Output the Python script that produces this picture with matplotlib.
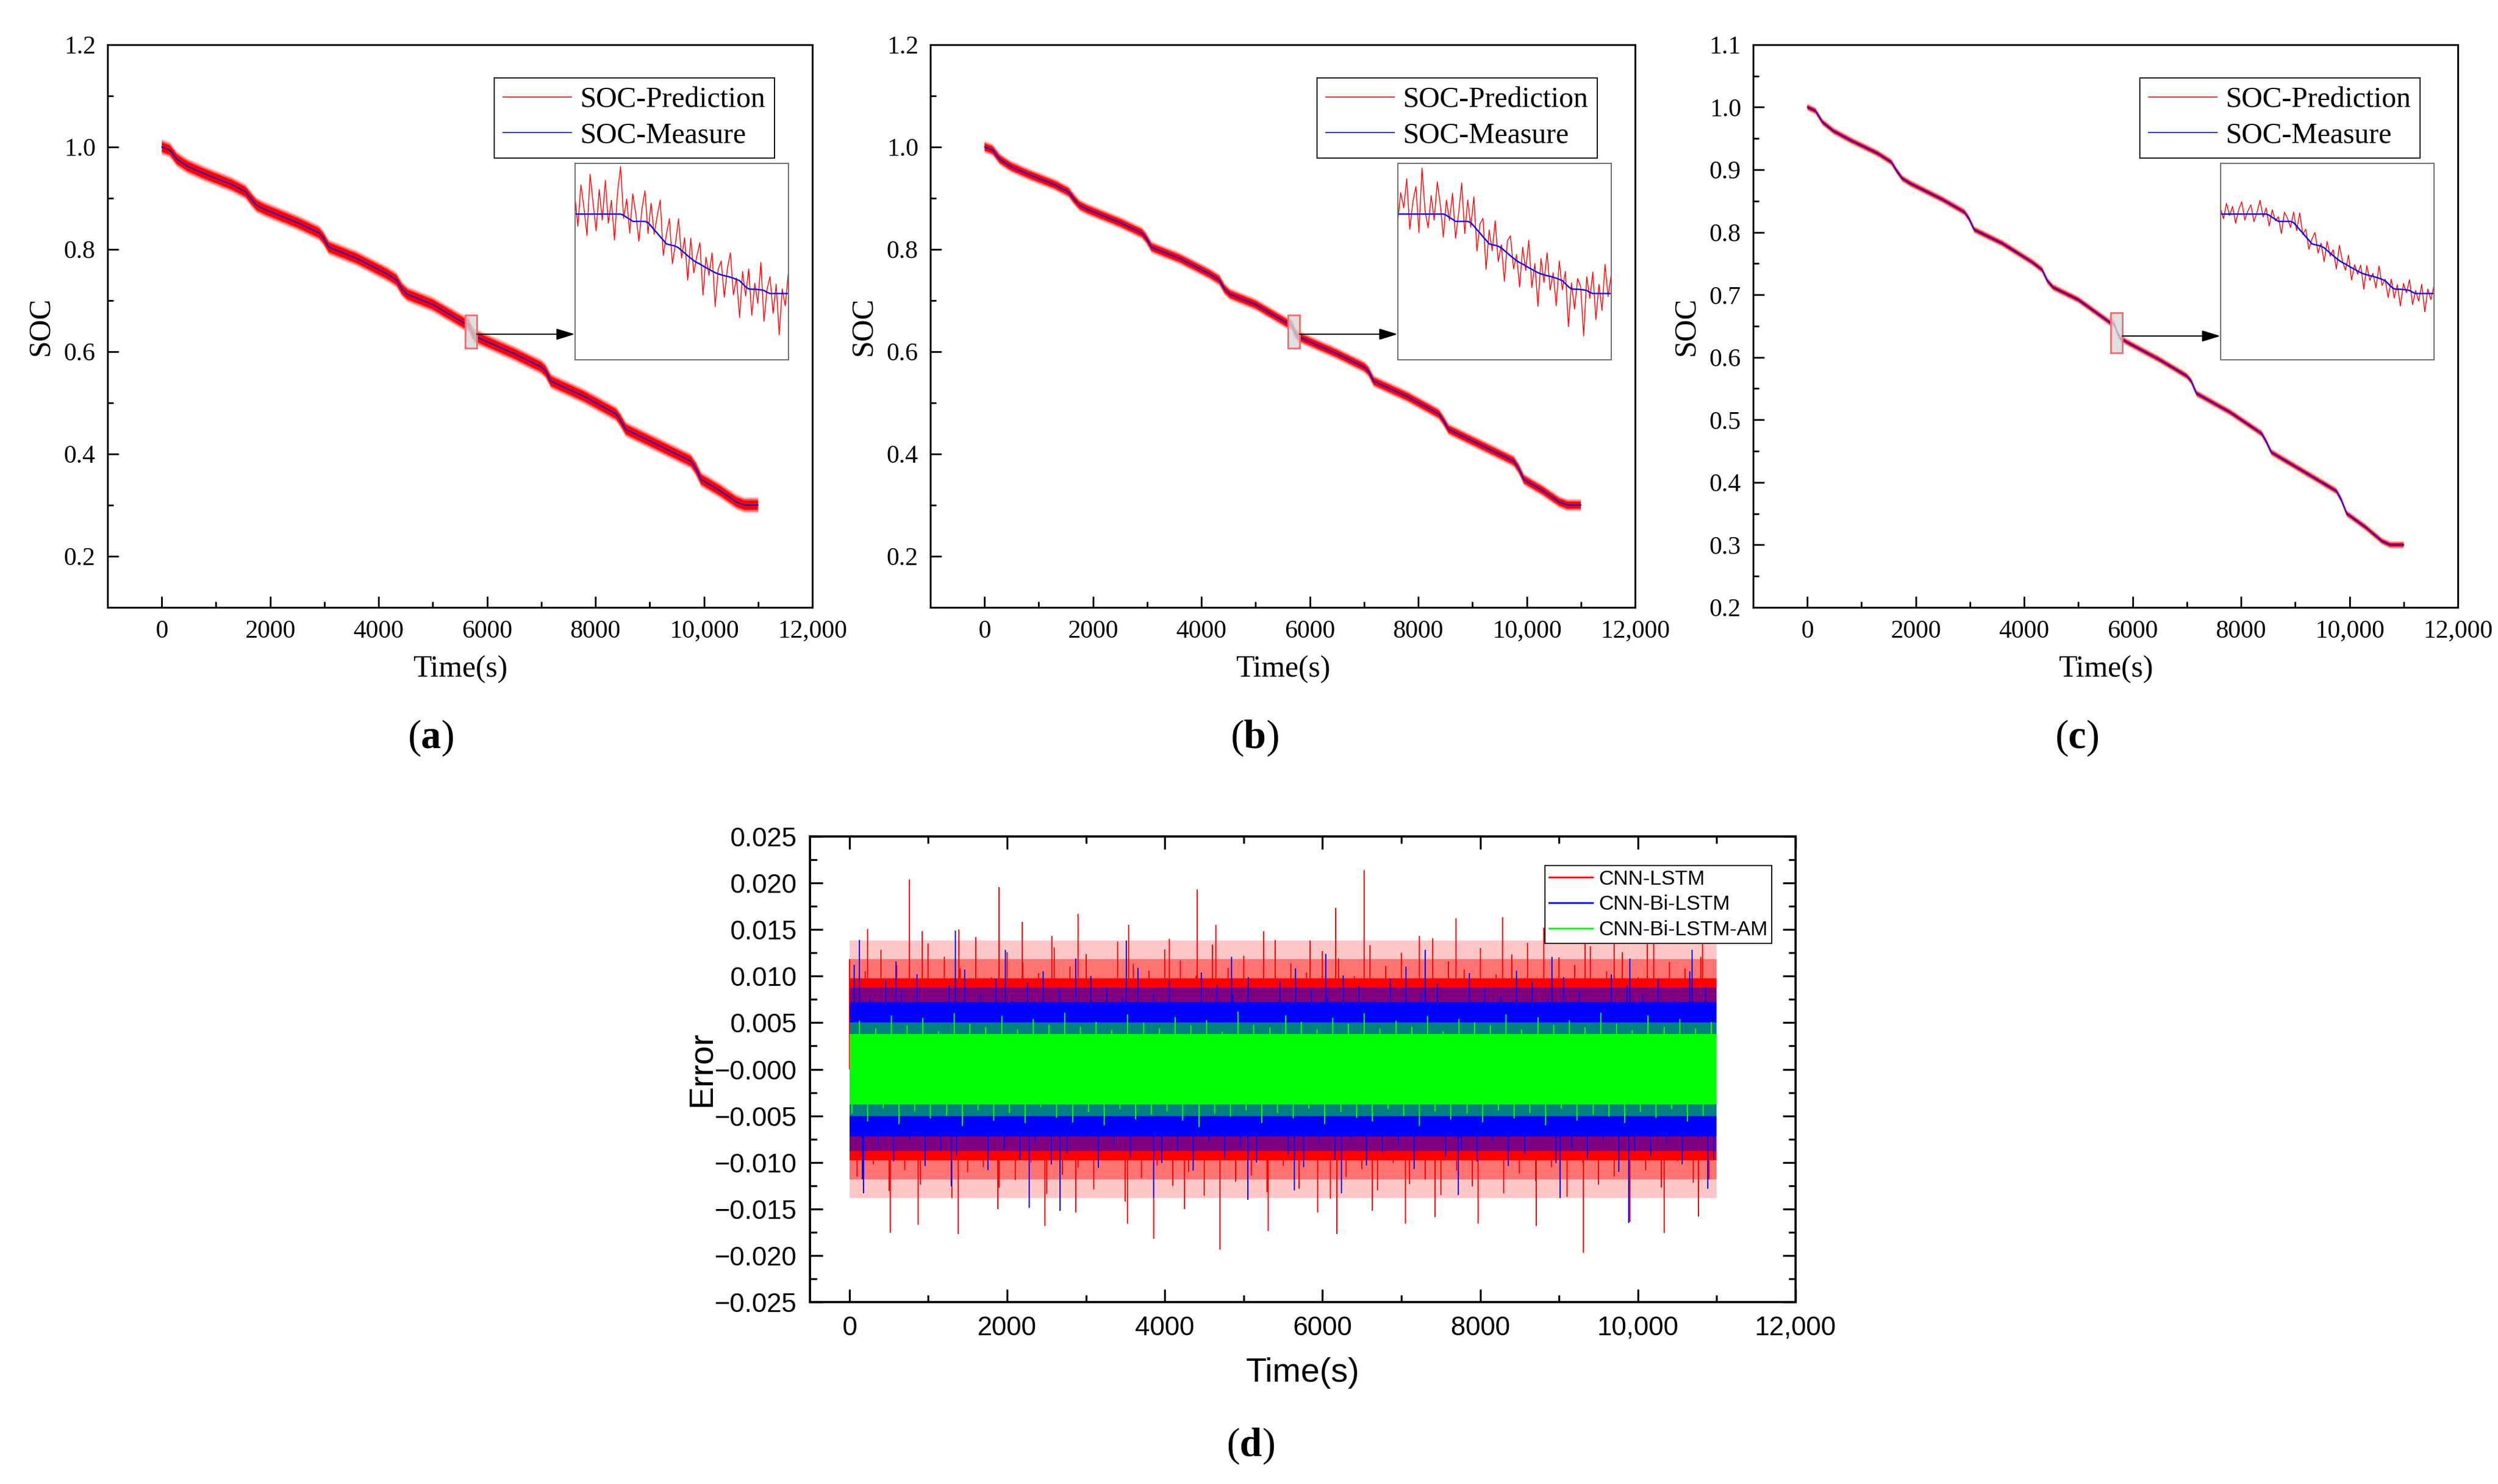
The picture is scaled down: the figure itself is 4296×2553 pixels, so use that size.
import numpy as np
import matplotlib
matplotlib.use("Agg")
import matplotlib.pyplot as plt
from matplotlib.lines import Line2D
from matplotlib.patches import Rectangle
from matplotlib.ticker import MultipleLocator, FuncFormatter

# ---------------------------------------------------------------- data
# measured SOC curve (knots read off the blue line)
soc_time = [0, 150, 280, 480, 800, 1300, 1550, 1650, 1750, 1900,
            2500, 2900, 2980, 3080, 3600, 4150, 4330, 4430, 4530, 5000,
            5600, 5646, 5657, 5671, 5690, 5701, 5716, 5737, 5751, 5762,
            5770, 5785, 5791, 5810,
            5900, 6500, 7000, 7080, 7180, 7800, 8380, 8460, 8560, 9200,
            9760, 9850, 9950, 10300, 10600, 10750, 11000]
soc_measure = [1.000, 0.994, 0.976, 0.962, 0.947, 0.926, 0.912, 0.898, 0.886, 0.878,
               0.852, 0.832, 0.822, 0.804, 0.782, 0.752, 0.740, 0.722, 0.712, 0.692,
               0.6545, 0.6545, 0.6521, 0.6521, 0.6448, 0.6438, 0.6395, 0.6355, 0.6342, 0.6328,
               0.6301, 0.6298, 0.6286, 0.6286,
               0.624, 0.596, 0.570, 0.562, 0.542, 0.512, 0.478, 0.466, 0.448, 0.415,
               0.386, 0.372, 0.350, 0.328, 0.306, 0.300, 0.300]

# spread of the red prediction around the measure in each main panel:
# solid half width, then the edges of the thinning fringe
band_a = [0.0095, 0.0125, 0.0155]
band_b = [0.0070, 0.0095, 0.0120]
band_c = [0.0030, 0.0045, 0.0060]

# zoomed window (5600-5810 s, 3 s sampling) shown in the insets
win_time = np.arange(5600, 5811, 3)
win_measure = [0.6545, 0.6545, 0.6545, 0.6545, 0.6545, 0.6545, 0.6545, 0.6545, 0.6545, 0.6545,
               0.6545, 0.6545, 0.6545, 0.6545, 0.6545, 0.6545, 0.6541, 0.6534, 0.6528, 0.6521,
               0.6521, 0.6521, 0.6521, 0.6521, 0.6517, 0.6506, 0.6494, 0.6483, 0.6471, 0.6460,
               0.6448, 0.6445, 0.6443, 0.6440, 0.6435, 0.6426, 0.6418, 0.6409, 0.6401, 0.6393,
               0.6387, 0.6382, 0.6376, 0.6370, 0.6365, 0.6359, 0.6354, 0.6350, 0.6347, 0.6344,
               0.6342, 0.6339, 0.6336, 0.6332, 0.6328, 0.6318, 0.6308, 0.6301, 0.6300, 0.6300,
               0.6299, 0.6298, 0.6296, 0.6290, 0.6286, 0.6286, 0.6286, 0.6286, 0.6286, 0.6286,
               0.6286]
# prediction minus measure in the window, units of 1e-4 SOC
win_dev_a = [60, -40, 95, 20, -70, 130, 35, -55, 80, -20,
             110, -30, 45, -85, 70, 155, -10, 60, -45, 90,
             25, -65, 40, 100, -35, 75, -15, 55, 120, -50,
             30, 85, -60, 10, 95, -25, 50, -80, 65, -40,
             20, 70, -95, 35, -20, 60, -110, 15, 45, -70,
             25, 80, -55, 5, -120, 40, -30, 65, -85, 20,
             -45, 90, -100, 10, 55, -65, 30, -135, 15, -40,
             70]
win_dev_b = [-30, 70, 20, 115, -50, 40, 90, -60, 150, 10,
             -45, 60, -20, 105, 30, -75, 50, -10, 85, -55,
             25, 125, -40, 70, -15, 95, -70, 30, 60, -95,
             45, -20, 80, -50, 10, -100, 40, 65, -35, 20,
             -80, 55, -15, 90, -60, 25, -110, 50, -25, 75,
             -45, 15, -90, 60, -30, 40, -130, 20, -65, 35,
             10, -150, 45, -20, 70, -85, 30, -55, 95, -10,
             60]
win_dev_c = [20, -15, 35, -5, 25, -30, 15, 40, -20, 10,
             30, -25, 5, 45, -10, 20, -35, 25, -5, 15,
             -40, 30, 10, -20, 35, -15, 55, -5, 25, -30,
             15, 40, -25, 10, -45, 30, -10, 20, -35, 50,
             5, -20, 35, -40, 15, -10, 25, -50, 30, -15,
             10, -35, 40, -20, 5, -45, 25, -30, 15, -55,
             20, -10, 35, -40, 10, -25, 30, -60, 15, -20,
             25]

# error panel: solid half width of each trace, then the fringe edges
lstm_levels = [0.0098, 0.0118, 0.0138]
bilstm_levels = [0.0072, 0.0088]
am_levels = [0.0038, 0.0050]

# peak heights read every 200 s (up) and in between (down), units of 1e-4
lstm_up_t = np.arange(0, 11000, 200)
lstm_down_t = np.arange(100, 11000, 200)
bilstm_up_t = np.arange(60, 11000, 200)
bilstm_down_t = np.arange(160, 11000, 200)
am_up_t = np.arange(130, 11000, 200)
am_down_t = np.arange(30, 11000, 200)
lstm_up = [118, 105, 128, 112, 97, 135, 121, 108, 142, 99,
           126, 115, 103, 131, 110, 124, 98, 137, 113, 106,
           129, 117, 101, 134, 109, 122, 96, 139, 114, 104,
           127, 119, 100, 133, 111, 125, 97, 141, 116, 107,
           130, 102, 123, 136, 98, 120, 112, 132, 105, 126,
           99, 138, 115, 108, 121]
lstm_down = [-115, -102, -131, -108, -124, -97, -138, -111, -105, -127,
             -119, -100, -134, -113, -106, -129, -98, -142, -117, -103,
             -125, -110, -136, -99, -121, -114, -132, -104, -128, -96,
             -139, -116, -107, -130, -101, -123, -118, -135, -109, -126,
             -97, -133, -112, -120, -105, -137, -100, -124, -115, -131,
             -108, -127, -99, -122, -118]
bilstm_up = [112, 78, 95, 84, 102, 71, 90, 107, 81, 98,
             74, 93, 105, 86, 69, 100, 88, 76, 109, 83,
             96, 72, 104, 91, 80, 99, 67, 94, 108, 85,
             77, 101, 89, 73, 97, 110, 82, 92, 70, 103,
             87, 79, 106, 94, 75, 99, 84, 68, 102, 90,
             81, 97, 74, 105, 88]
bilstm_down = [-118, -82, -99, -76, -104, -88, -93, -71, -108, -85,
               -97, -79, -102, -90, -74, -106, -83, -95, -70, -101,
               -87, -109, -77, -96, -84, -100, -73, -92, -105, -80,
               -98, -75, -103, -89, -81, -107, -72, -94, -86, -99,
               -78, -104, -91, -69, -101, -85, -96, -76, -110, -88,
               -93, -80, -102, -74, -97]
am_up = [52, 44, 58, 47, 55, 41, 60, 49, 45, 57,
         43, 54, 48, 61, 46, 51, 42, 59, 50, 44,
         56, 47, 53, 40, 62, 48, 45, 58, 51, 43,
         55, 49, 60, 44, 52, 46, 57, 41, 54, 50,
         47, 59, 43, 56, 48, 53, 45, 61, 49, 42,
         58, 46, 54, 44, 51]
am_down = [-48, -56, -42, -59, -45, -53, -50, -61, -44, -55,
           -47, -58, -41, -52, -57, -46, -60, -43, -54, -49,
           -45, -55, -62, -48, -51, -44, -58, -47, -53, -42,
           -59, -46, -52, -56, -43, -50, -61, -45, -54, -48,
           -57, -44, -53, -47, -60, -42, -55, -49, -51, -58,
           -46, -52, -43, -56, -50]

# the isolated tall peaks
lstm_peak_t = [230, 762, 920, 1390, 1900, 2190, 2570, 2900, 3540, 4060, 4410, 4650,
               5250, 5840, 6170, 6530, 7230, 7690, 8280, 8810, 9330, 9700, 10120, 10820,
               520, 870, 1380, 1880, 2480, 2870, 3530, 3860, 4250, 4700, 5310,
               5940, 6180, 6630, 7050, 7430, 7970, 8710, 9310, 9900, 10330, 10770]
lstm_peak_v = [0.0151, 0.0204, 0.0148, 0.0150, 0.0196, 0.0158, 0.0143, 0.0167, 0.0155, 0.0140, 0.0193, 0.0155,
               0.0148, 0.0138, 0.0173, 0.0214, 0.0143, 0.0162, 0.0163, 0.0152, 0.0140, 0.0140, 0.0148, 0.0154,
               -0.0176, -0.0167, -0.0177, -0.0150, -0.0168, -0.0154, -0.0166, -0.0182, -0.0150, -0.0194, -0.0174,
               -0.0154, -0.0177, -0.0152, -0.0166, -0.0159, -0.0166, -0.0168, -0.0197, -0.0164, -0.0176, -0.0158]
bilstm_peak_t = [130, 590, 1340, 1980, 2870, 3510, 4850, 6040, 7300, 8910, 9900, 10690,
                 180, 1290, 2280, 2670, 3860, 5050, 5640, 6240, 7720, 9010, 9880, 10890]
bilstm_peak_v = [0.0139, 0.0116, 0.0149, 0.0128, 0.0119, 0.0138, 0.0121, 0.0124, 0.0128, 0.0121, 0.0119, 0.0128,
                 -0.0133, -0.0126, -0.0149, -0.0152, -0.0138, -0.0140, -0.0130, -0.0133, -0.0135, -0.0138, -0.0165, -0.0128]

# ---------------------------------------------------------------- style
plt.rcParams["font.family"] = ["Liberation Serif", "DejaVu Serif"]
plt.rcParams["mathtext.fontset"] = "custom"
plt.rcParams["mathtext.rm"] = "Liberation Serif"
plt.rcParams["mathtext.bf"] = "Liberation Serif:bold"

SERIF = ["Liberation Serif", "DejaVu Serif"]
SANS = ["Liberation Sans", "DejaVu Sans"]

zoom_x = (5600, 5810)
zoom_y = (0.607, 0.671)
arrow_y = 0.634


def time_fmt(v, pos):
    if abs(v) >= 10000:
        return f"{v:,.0f}"
    return f"{v:.0f}"


def fuzzy_band(ax, t, center, levels, alphas, color, z):
    """solid band of half width levels[0], then fading rings out to levels[-1]"""
    center = np.asarray(center, dtype=float)
    ax.fill_between(t, center - levels[0], center + levels[0], facecolor=color,
                    lw=0, zorder=z)
    for lo, hi, a in zip(levels[:-1], levels[1:], alphas):
        ax.fill_between(t, center + lo, center + hi, facecolor=color, alpha=a, lw=0, zorder=z)
        ax.fill_between(t, center - hi, center - lo, facecolor=color, alpha=a, lw=0, zorder=z)


def soc_panel(ax, band, dev, ylim, ymajor, yminor):
    t = np.asarray(soc_time)
    m = np.asarray(soc_measure)
    fuzzy_band(ax, t, m, band, [0.6, 0.25], "#ff0000", 2)
    ax.plot(t, m, color="#0000ff", lw=0.45, zorder=3)

    ax.set_xlim(-1000, 12000)
    ax.set_ylim(*ylim)
    ax.xaxis.set_major_locator(MultipleLocator(2000))
    ax.xaxis.set_minor_locator(MultipleLocator(1000))
    ax.yaxis.set_major_locator(MultipleLocator(ymajor))
    ax.yaxis.set_minor_locator(MultipleLocator(yminor))
    ax.xaxis.set_major_formatter(FuncFormatter(time_fmt))
    ax.yaxis.set_major_formatter(FuncFormatter(lambda v, p: f"{v:.1f}"))
    ax.tick_params(which="both", direction="in", top=False, right=False,
                   width=0.7, labelsize=10.5)
    ax.tick_params(which="major", length=4.6, pad=5)
    ax.tick_params(which="minor", length=2.4)
    for lab in ax.get_xticklabels() + ax.get_yticklabels():
        lab.set_family(SERIF)
    for s in ax.spines.values():
        s.set_linewidth(0.75)

    ax.set_xlabel("Time(s)", fontsize=12.5, family=SERIF)
    ax.set_ylabel("SOC", fontsize=12.5, family=SERIF)
    ax.xaxis.set_label_coords(0.5, -0.086)
    ax.yaxis.set_label_coords(-0.075, 0.5)

    handles = [Line2D([], [], color="#ff0000", lw=0.4),
               Line2D([], [], color="#0000ff", lw=0.4)]
    leg = ax.legend(handles, ["SOC-Prediction", "SOC-Measure"], loc="upper right",
                    bbox_to_anchor=(0.946, 0.941), prop={"family": SERIF, "size": 12},
                    fancybox=False, edgecolor="k", framealpha=1, borderpad=0.3,
                    labelspacing=0.3, handlelength=2.35, handletextpad=0.3,
                    borderaxespad=0)
    leg.get_frame().set_linewidth(0.45)

    # zoom marker and arrow to the inset
    ax.add_patch(Rectangle((zoom_x[0], zoom_y[0]), zoom_x[1] - zoom_x[0], zoom_y[1] - zoom_y[0],
                           facecolor=(0.85, 0.85, 0.85, 0.8), edgecolor="#f07070",
                           lw=0.7, zorder=5))
    ax.annotate("", xy=(0.663, arrow_y), xycoords=("axes fraction", "data"),
                xytext=(zoom_x[1], arrow_y), textcoords="data",
                arrowprops=dict(arrowstyle="-|>,head_length=0.65,head_width=0.2",
                                color="k", lw=0.5, shrinkA=0, shrinkB=0,
                                mutation_scale=10), zorder=6)

    iax = ax.inset_axes([0.663, 0.44, 0.303, 0.349])
    wm = np.asarray(win_measure)
    iax.plot(win_time, wm + np.asarray(dev) * 1e-4, color="#ff0000", lw=0.35)
    iax.plot(win_time, wm, color="#0000ff", lw=0.6)
    iax.set_xlim(*zoom_x)
    iax.set_ylim(*zoom_y)
    iax.set_xticks([])
    iax.set_yticks([])
    for s in iax.spines.values():
        s.set_linewidth(0.5)
        s.set_edgecolor("#707070")


fig = plt.figure(figsize=(14.32, 8.51), dpi=300)

ax_a = fig.add_axes([0.04306, 0.5907, 0.28212, 0.3792])
ax_b = fig.add_axes([0.37244, 0.5907, 0.28212, 0.3792])
ax_c = fig.add_axes([0.70182, 0.5907, 0.28212, 0.3792])
soc_panel(ax_a, band_a, win_dev_a, (0.1, 1.2), 0.2, 0.1)
soc_panel(ax_b, band_b, win_dev_b, (0.1, 1.2), 0.2, 0.1)
soc_panel(ax_c, band_c, win_dev_c, (0.2, 1.1), 0.1, 0.05)

# ---------------------------------------------------------------- error panel
ax_d = fig.add_axes([0.32426, 0.1226, 0.39455, 0.31375])
series = [
    ("CNN-LSTM", "#ff0000", lstm_levels, [0.55, 0.22], lstm_up_t, lstm_up,
     lstm_down_t, lstm_down, lstm_peak_t, lstm_peak_v),
    ("CNN-Bi-LSTM", "#0000ff", bilstm_levels, [0.5], bilstm_up_t, bilstm_up,
     bilstm_down_t, bilstm_down, bilstm_peak_t, bilstm_peak_v),
    ("CNN-Bi-LSTM-AM", "#00ff00", am_levels, [0.5], am_up_t, am_up,
     am_down_t, am_down, [], []),
]
span = [0, 11000]
for k, (name, col, levels, fade, ut, uv, dt, dv, pt, pv) in enumerate(series):
    z = 2 + k
    fuzzy_band(ax_d, span, [0, 0], levels, fade, col, z)
    ax_d.vlines(ut, 0, np.asarray(uv) * 1e-4, color=col, lw=0.5, zorder=z)
    ax_d.vlines(dt, 0, np.asarray(dv) * 1e-4, color=col, lw=0.5, zorder=z)
    if len(pt):
        ax_d.vlines(pt, 0, pv, color=col, lw=0.5, zorder=z)

ax_d.set_xlim(-500, 12000)
ax_d.set_ylim(-0.025, 0.025)
ax_d.xaxis.set_major_locator(MultipleLocator(2000))
ax_d.xaxis.set_minor_locator(MultipleLocator(1000))
ax_d.yaxis.set_major_locator(MultipleLocator(0.005))
ax_d.yaxis.set_minor_locator(MultipleLocator(0.0025))
ax_d.xaxis.set_major_formatter(FuncFormatter(time_fmt))
ax_d.yaxis.set_major_formatter(FuncFormatter(lambda v, p: f"{v:.3f}".replace("-", "\u2212")))
ax_d.tick_params(which="both", direction="in", top=True, right=True, width=0.8, labelsize=11)
ax_d.tick_params(which="major", length=5.3, pad=5.5)
ax_d.tick_params(which="minor", length=2.9)
for lab in ax_d.get_xticklabels() + ax_d.get_yticklabels():
    lab.set_family(SANS)
for s in ax_d.spines.values():
    s.set_linewidth(0.9)
ax_d.set_xlabel("Time(s)", fontsize=14, family=SANS)
ax_d.set_ylabel("Error", fontsize=14, family=SANS)
ax_d.xaxis.set_label_coords(0.5, -0.118)
ax_d.yaxis.set_label_coords(-0.094, 0.5)

d_handles = [Line2D([], [], color=s[1], lw=0.7) for s in series]
leg_d = ax_d.legend(d_handles, [s[0] for s in series], loc="upper right",
                    bbox_to_anchor=(0.976, 0.938), prop={"family": SANS, "size": 8.5},
                    fancybox=False, edgecolor="k", framealpha=1, borderpad=0.2,
                    labelspacing=0.3, handlelength=2.1, handletextpad=0.3,
                    borderaxespad=0)
leg_d.get_frame().set_linewidth(0.45)
leg_d.set_zorder(10)

# ---------------------------------------------------------------- panel tags
for x, y, tag in [(0.1723, 0.5026, "a"), (0.5021, 0.5026, "b"),
                  (0.8315, 0.5026, "c"), (0.5005, 0.0255, "d")]:
    fig.text(x, y, "(" + r"$\mathbf{" + tag + "}$" + ")", ha="center", va="center",
             fontsize=16.5, family=SERIF)

fig.savefig("out.png", dpi=300)
